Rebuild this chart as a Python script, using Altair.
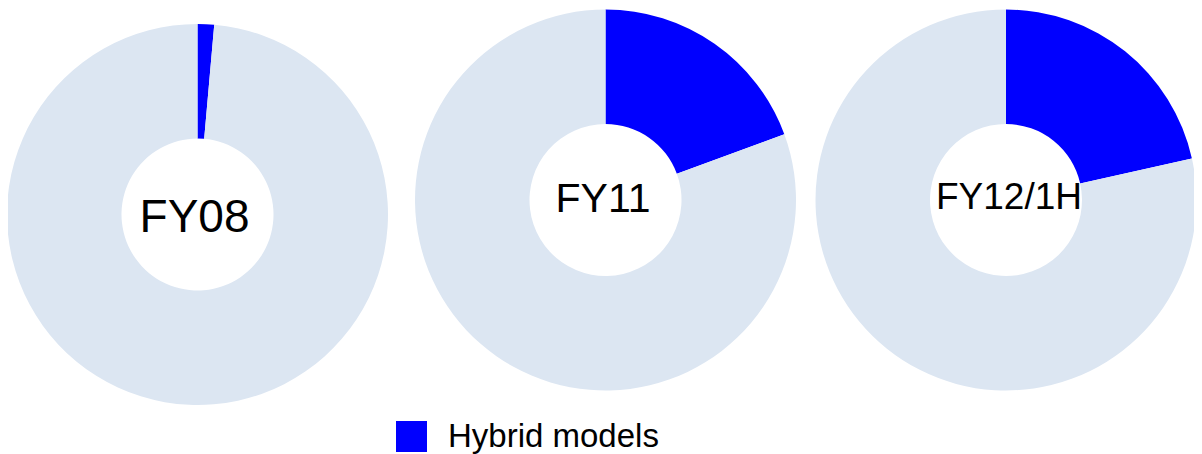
import altair as alt
import pandas as pd

years = ["FY08", "FY11", "FY12/1H"]
hybrid_share = [1.4, 19.4, 21.5]
other_share = [98.6, 80.6, 78.5]
series = ["Hybrid models", "Other models"]

rows = []
for y, h, o in zip(years, hybrid_share, other_share):
    rows.append({"year": y, "series": series[0], "share": h, "rank": 0})
    rows.append({"year": y, "series": series[1], "share": o, "rank": 1})
df = pd.DataFrame(rows)

FONT = "Liberation Sans Narrow, Arial Narrow, Liberation Sans, Arial, sans-serif"

# centre of each donut (plot coordinates), label font size
centers = {"FY08": (189.5, 206.5), "FY11": (597.5, 192), "FY12/1H": (998, 192)}
label_pos = {"FY08": (186.5, 210), "FY11": (595, 192), "FY12/1H": (1001, 190)}
label_size = {"FY08": 46, "FY11": 41, "FY12/1H": 37}

color = alt.Color(
    "series:N",
    scale=alt.Scale(domain=series, range=["#0000FF", "#DCE6F2"]),
    legend=alt.Legend(
        values=["Hybrid models"],
        title=None,
        orient="none",
        legendX=387,
        legendY=412,
        symbolType="square",
        symbolSize=961,
        symbolStrokeWidth=0,
        labelFont=FONT,
        labelFontSize=33,
        labelColor="#000000",
        labelOffset=20,
        padding=0,
        labelLimit=400,
    ),
)

base = alt.Chart(df)
layers = []
for i, y in enumerate(years):
    cx, cy = centers[y]
    arc = base.transform_filter(alt.datum.year == y).mark_arc(
        radius=190.5, radius2=76, strokeWidth=0
    ).encode(
        theta=alt.Theta("share:Q", stack=True),
        color=color,
        order=alt.Order("rank:Q", sort="ascending"),
        x=alt.value(cx),
        y=alt.value(cy),
    )
    lx, ly = label_pos[y]
    txt = base.transform_filter(
        (alt.datum.year == y) & (alt.datum.rank == 0)
    ).mark_text(
        font=FONT, fontSize=label_size[y], color="#000000",
        align="center", baseline="middle"
    ).encode(
        text="year:N",
        x=alt.value(lx),
        y=alt.value(ly),
    )
    layers += [arc, txt]

chart = alt.layer(*layers).properties(
    width=1186, height=446, autosize="none", padding=0
).configure_view(strokeWidth=0)

chart.save("out.html", embed_options={"renderer": "svg", "actions": False})
